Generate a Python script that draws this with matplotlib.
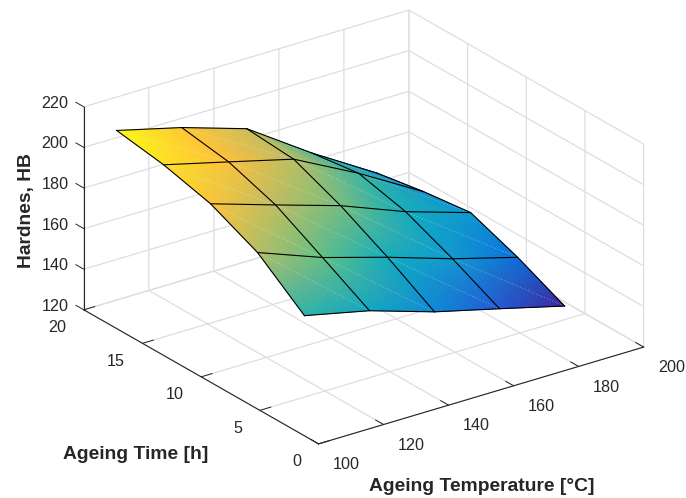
#!/usr/bin/python

import numpy as np
import matplotlib
matplotlib.use('Agg')
import matplotlib.pyplot as plt
from matplotlib.colors import LinearSegmentedColormap
from matplotlib.transforms import Affine2D

plt.rcParams['font.family'] = ['Liberation Sans', 'DejaVu Sans']

# Values
temperature = [100, 120, 140, 160, 180]
ageing_time = [1.2, 5.2, 9.2, 13.2, 17.2]
hardness_t1 = [179.2, 172.1, 162.0, 154.0, 145.8]
hardness_t2 = [197.1, 185.1, 175.7, 165.4, 156.6]
hardness_t3 = [207.9, 197.8, 187.9, 175.4, 165.4]
hardness_t4 = [213.9, 205.8, 197.6, 181.1, 162.5]
hardness_t5 = [217.6, 209.5, 199.4, 177.9, 158.5]

x_ticks = [100, 120, 140, 160, 180, 200]
y_ticks = [0, 5, 10, 15, 20]
z_ticks = [120, 140, 160, 180, 200, 220]

# parula-like map, tuned to the colours in the picture
parula = LinearSegmentedColormap.from_list('parula', [
    (0.0, (0.24, 0.15, 0.60)), (0.11, (0.14, 0.33, 0.84)), (0.15, (0.04, 0.43, 0.87)),
    (0.27, (0.06, 0.60, 0.82)), (0.42, (0.06, 0.68, 0.74)), (0.55, (0.38, 0.75, 0.52)),
    (0.72, (0.72, 0.74, 0.40)), (0.82, (1.0, 0.74, 0.24)), (0.90, (1.0, 0.78, 0.20)),
    (1.0, (0.98, 0.98, 0.08))])

dark = (0.15, 0.15, 0.15)
T = np.array(temperature, dtype=float)
t = np.array(ageing_time, dtype=float)
H = np.array([hardness_t1, hardness_t2, hardness_t3, hardness_t4, hardness_t5])

W, Ht = 686, 498
fig = plt.figure(figsize=(W / 100, Ht / 100), dpi=100)
ax = fig.add_axes([60 / W, -32.7 / Ht, 591.5 / W, 591.5 / Ht],
                  projection='3d', proj_type='ortho', computed_zorder=False)
ax.view_init(elev=24.35, azim=-125.83)
ax.set_box_aspect((401, 401, 222.8))
ax.set_xlim(100, 200)
ax.set_ylim(0, 20)
ax.set_zlim(120, 220)


def refine(a, n):
    # split every cell in n, along both directions, so the shading runs smoothly
    iu = np.linspace(0, a.shape[1] - 1, (a.shape[1] - 1) * n + 1)
    iv = np.linspace(0, a.shape[0] - 1, (a.shape[0] - 1) * n + 1)
    out = np.array([np.interp(iu, np.arange(a.shape[1]), row) for row in a])
    return np.array([np.interp(iv, np.arange(a.shape[0]), col) for col in out.T]).T


def shift_labels(axis, dx, dy):
    # Axis3D resets the label transform on every draw, so hook in after that
    orig = axis.get_major_ticks

    def patched(numticks=None):
        ticks = orig(numticks)
        for tk in ticks:
            tk.label1.set_transform(ax.transData + Affine2D().translate(dx, -dy))
        return ticks
    axis.get_major_ticks = patched


# vertex colours from the colormap, blended in RGB inside a cell
n = 18
Xf, Yf = np.meshgrid(T, t)
Xf, Yf, Hf = refine(Xf, n), refine(Yf, n), refine(H, n)
rgb = parula((H - H.min()) / (H.max() - H.min()))
rgbf = np.dstack([refine(rgb[:, :, k], n) for k in range(3)])
face = 0.25 * (rgbf[:-1, :-1] + rgbf[1:, :-1] + rgbf[:-1, 1:] + rgbf[1:, 1:])
surf = ax.plot_surface(Xf, Yf, Hf, rstride=1, cstride=1, facecolors=face,
                       shade=False, linewidth=0.5, antialiased=True, zorder=1)
surf.set_edgecolors(face.reshape(-1, 3))

# faint seam along the diagonal of each cell
for j in range(len(t) - 1):
    for i in range(len(T) - 1):
        ax.plot([T[i], T[i + 1]], [t[j + 1], t[j]], [H[j + 1, i], H[j, i + 1]],
                color='w', lw=0.6, alpha=0.35, ls=(0, (1.5, 2)), zorder=1.5)

# black mesh on top
for j in range(len(t)):
    ax.plot(T, np.full(len(T), t[j]), H[j], color='k', lw=0.8, zorder=2)
for i in range(len(T)):
    ax.plot(np.full(len(t), T[i]), t, H[:, i], color='k', lw=0.8, zorder=2)

ax.set_xticks(x_ticks)
ax.set_yticks(y_ticks)
ax.set_zticks(z_ticks)

for axis in (ax.xaxis, ax.yaxis, ax.zaxis):
    axis.set_pane_color((1, 1, 1, 0))
    axis.pane.set_edgecolor('none')
    axis.line.set_color(dark)
    axis.line.set_linewidth(0.8)
    axis._axinfo['grid'].update(color=(0.87, 0.87, 0.87), linewidth=0.9)
    axis._axinfo['tick'].update(inward_factor=0, outward_factor=0.42, linewidth={True: 0.7, False: 0.7},
                                color=dark)
    axis.set_tick_params(labelsize=11.6, labelcolor=dark, color=dark, width=0.7, pad=4)

# z ticks run along the time axis
ax.zaxis._get_tickdir = lambda pos: 1

for lab in ax.yaxis.get_ticklabels():
    lab.set(ha='right')

shift_labels(ax.xaxis, 15, -5)
shift_labels(ax.yaxis, 0, -6)
shift_labels(ax.zaxis, 1.5, -9)

fig.text(482 / W, 1 - 486 / Ht, 'Ageing Temperature [°C]', fontsize=13.9, fontweight='bold',
         color=dark, ha='center', va='center')
fig.text(136 / W, 1 - 454 / Ht, 'Ageing Time [h]', fontsize=13.9, fontweight='bold',
         color=dark, ha='center', va='center')
fig.text(26 / W, 1 - 211 / Ht, 'Hardnes, HB', fontsize=13.9, fontweight='bold', rotation=90,
         color=dark, ha='center', va='center')

fig.savefig('out.png', dpi=100)
